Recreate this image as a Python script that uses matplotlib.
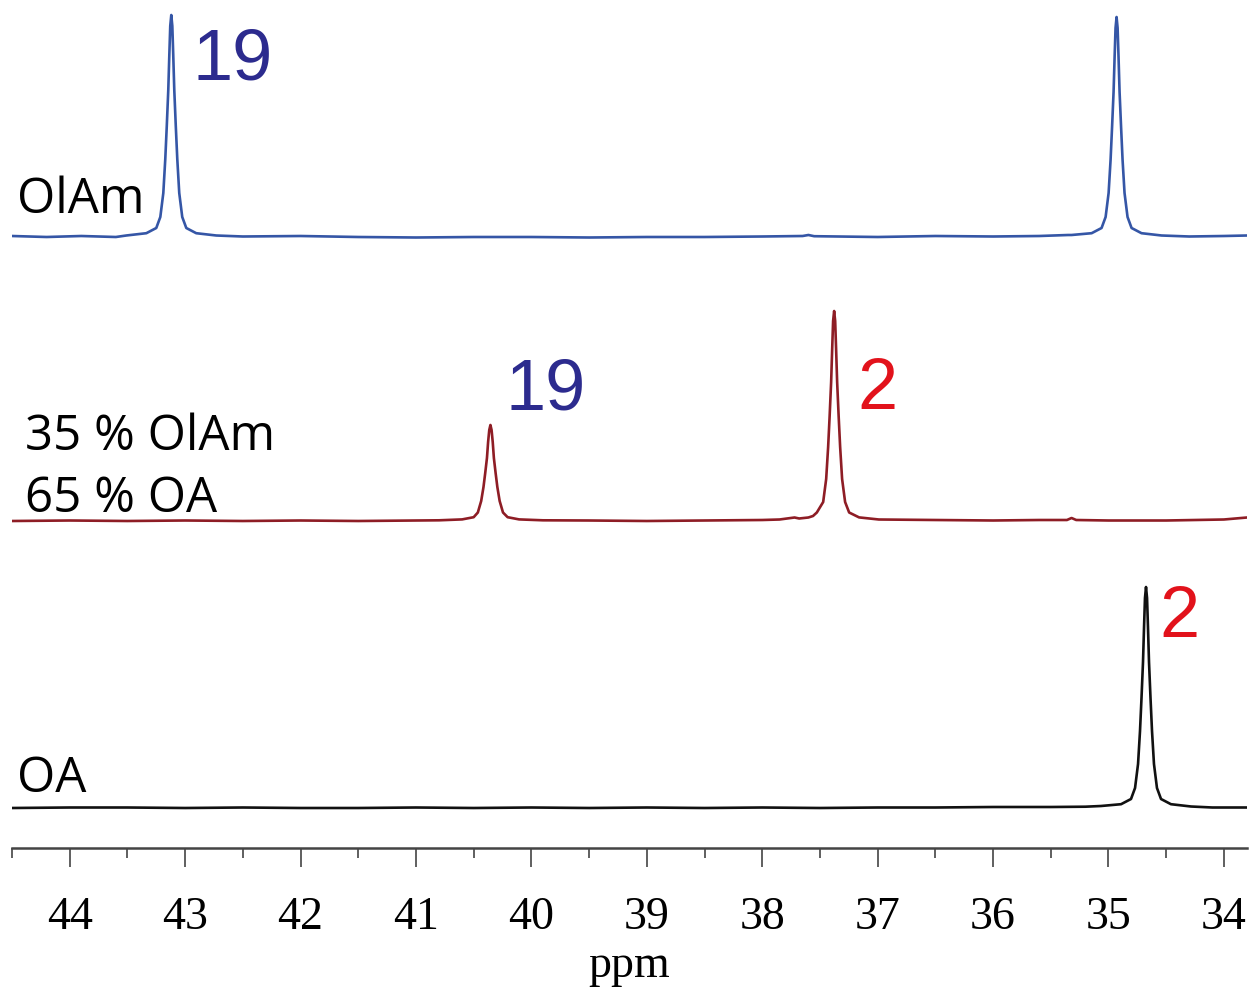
import matplotlib
matplotlib.use("Agg")
import matplotlib.pyplot as plt
from matplotlib.ticker import MultipleLocator

# ---------------- data (ppm, intensity above own baseline, arbitrary units) -------------
olam_ppm = [44.50, 44.20, 43.90, 43.60, 43.51, 43.336, 43.25, 43.215, 43.189, 43.172,
            43.159, 43.146, 43.137, 43.129, 43.12, 43.111, 43.103, 43.094, 43.081, 43.068,
            43.051, 43.025, 42.99, 42.904, 42.73,
            42.50, 42.00, 41.50, 41.00, 40.50, 40.00, 39.50, 39.00, 38.50, 38.00, 37.65,
            37.60, 37.55, 37.00, 36.50, 36.00, 35.60, 35.35, 35.32, 35.146, 35.06, 35.025,
            34.999, 34.982, 34.969, 34.956, 34.947, 34.939, 34.93, 34.921, 34.913, 34.904,
            34.891, 34.878, 34.861, 34.835, 34.80, 34.714, 34.54, 34.30, 34.00, 33.80]
olam_int = [1.0, 0.0, 1.0, 0.0, 1.5, 3.8, 9.0, 20, 44, 78,
            111, 147, 182, 211, 222, 211, 182, 147, 111, 78,
            44, 20, 9.0, 3.8, 1.5,
            0.5, 1.0, 0.0, -0.5, 0.0, 0.0, -0.5, 0.0, 0.0, 0.5, 1.0,
            2.0, 0.8, 0.0, 1.0, 0.5, 1.0, 2.0, 2.0, 3.8, 9.0, 20,
            44, 77, 110, 145, 180, 209, 220, 209, 180, 145,
            110, 77, 44, 20, 9.0, 3.8, 1.5, 0.5, 1.0, 1.5]

mix_ppm = [44.50, 44.00, 43.50, 43.00, 42.50, 42.00, 41.50, 41.00, 40.80, 40.60, 40.50,
           40.464, 40.435, 40.415, 40.400, 40.385, 40.375, 40.365, 40.355, 40.345, 40.335,
           40.325, 40.310, 40.295, 40.275, 40.246, 40.206, 40.107, 39.90,
           39.50, 39.00, 38.50, 38.00, 37.85, 37.72, 37.68, 37.64, 37.60, 37.56, 37.527,
           37.472, 37.446, 37.429, 37.416, 37.403, 37.394, 37.386, 37.377, 37.368, 37.360,
           37.351, 37.338, 37.325, 37.308, 37.282, 37.247, 37.161, 36.99,
           36.50, 36.00, 35.60, 35.36, 35.32, 35.28, 35.00, 34.50, 34.00, 33.90, 33.80]
mix_int = [0.0, 0.5, 0.0, 0.5, 0.0, 0.5, 0.0, 0.5, 0.7, 1.6, 3.8,
           8.5, 20, 34, 48, 63, 79, 91, 96, 91, 79,
           63, 48, 34, 20, 8.5, 3.8, 1.6, 0.7,
           0.5, 0.0, 0.5, 1.0, 1.5, 3.5, 2.5, 3.0, 3.5, 5.0, 8.5,
           19, 42, 74, 105, 139, 172, 200, 210, 200, 172,
           139, 105, 74, 42, 19, 8.5, 3.6, 1.5,
           1.0, 0.5, 1.0, 1.0, 3.0, 1.0, 0.5, 0.5, 1.5, 2.5, 3.5]

oa_ppm = [44.50, 44.00, 43.50, 43.00, 42.50, 42.00, 41.50, 41.00, 40.50, 40.00, 39.50,
          39.00, 38.50, 38.00, 37.50, 37.00, 36.50, 36.00, 35.50, 35.20, 35.065, 34.891,
          34.805, 34.77, 34.744, 34.727, 34.714, 34.701, 34.692, 34.684, 34.675, 34.666,
          34.658, 34.649, 34.636, 34.623, 34.606, 34.58, 34.545, 34.459, 34.285, 34.10,
          33.80]
oa_int = [0.0, 0.5, 0.5, 0.0, 0.5, 0.0, 0.0, 0.5, 0.0, 0.5, 0.0,
          0.5, 0.0, 0.5, 0.0, 0.5, 0.5, 1.0, 1.0, 1.3, 2.0, 3.8,
          9.0, 20, 44, 77, 110, 146, 181, 210, 221, 210,
          181, 146, 110, 77, 44, 20, 9.0, 3.8, 1.5, 0.5,
          0.5]

offsets = {"OlAm": 611, "mix": 327, "OA": 40}
major_ticks = [44, 43, 42, 41, 40, 39, 38, 37, 36, 35, 34]

# ---------------- figure -------------
W, H = 1257, 993
fig = plt.figure(figsize=(W / 100, H / 100), dpi=100)
ax = fig.add_axes([12 / W, (H - 848) / H, (1247 - 12) / W, 848 / H])
ax.set_xlim(44.50, 33.80)
ax.set_ylim(0, 848)

blue_line = "#3556a6"
red_line = "#8e1d25"
black_line = "#111111"
num_blue = "#2c2b8e"
num_red = "#e2121b"

ax.plot(olam_ppm, [v + offsets["OlAm"] for v in olam_int], color=blue_line, lw=1.9,
        solid_joinstyle="round")
ax.plot(mix_ppm, [v + offsets["mix"] for v in mix_int], color=red_line, lw=1.9,
        solid_joinstyle="round")
ax.plot(oa_ppm, [v + offsets["OA"] for v in oa_int], color=black_line, lw=1.9,
        solid_joinstyle="round")

# spines / ticks
for s in ["left", "right", "top"]:
    ax.spines[s].set_visible(False)
ax.spines["bottom"].set_color("#444444")
ax.spines["bottom"].set_linewidth(1.8)
ax.set_yticks([])
ax.set_xticks(major_ticks)
ax.xaxis.set_minor_locator(MultipleLocator(0.5))
ax.tick_params(axis="x", which="major", direction="out", length=14, width=1.2,
               color="#444444", pad=21)
ax.tick_params(axis="x", which="minor", direction="out", length=7, width=1.2,
               color="#444444")
serif = "Liberation Serif"
for lab in ax.get_xticklabels():
    lab.set_fontfamily(serif)
    lab.set_fontsize(33)
ax.set_xlabel("ppm", fontfamily=serif, fontsize=33, labelpad=4)

# spectrum labels
sans = "Open Sans"
ax.text(44.46, 635, "OlAm", fontfamily=sans, fontsize=35.5,
        ha="left", va="baseline", color="black")
ax.text(44.39, 398, "35 % OlAm", fontfamily=sans, fontsize=35.5,
        ha="left", va="baseline", color="black")
ax.text(44.39, 336, "65 % OA", fontfamily=sans, fontsize=35.5,
        ha="left", va="baseline", color="black")
ax.text(44.46, 56, "OA", fontfamily=sans, fontsize=35.5,
        ha="left", va="baseline", color="black")

# peak numbers
num_font = "Liberation Sans"
ax.text(42.94, 769, "19", fontfamily=num_font, fontsize=52, ha="left",
        va="baseline", color=num_blue)
ax.text(40.225, 439, "19", fontfamily=num_font, fontsize=52, ha="left",
        va="baseline", color=num_blue)
ax.text(37.18, 439, "2", fontfamily=num_font, fontsize=52, ha="left",
        va="baseline", color=num_red)
ax.text(34.56, 211, "2", fontfamily=num_font, fontsize=52, ha="left",
        va="baseline", color=num_red)

fig.savefig("out.png", dpi=100, facecolor="white")
